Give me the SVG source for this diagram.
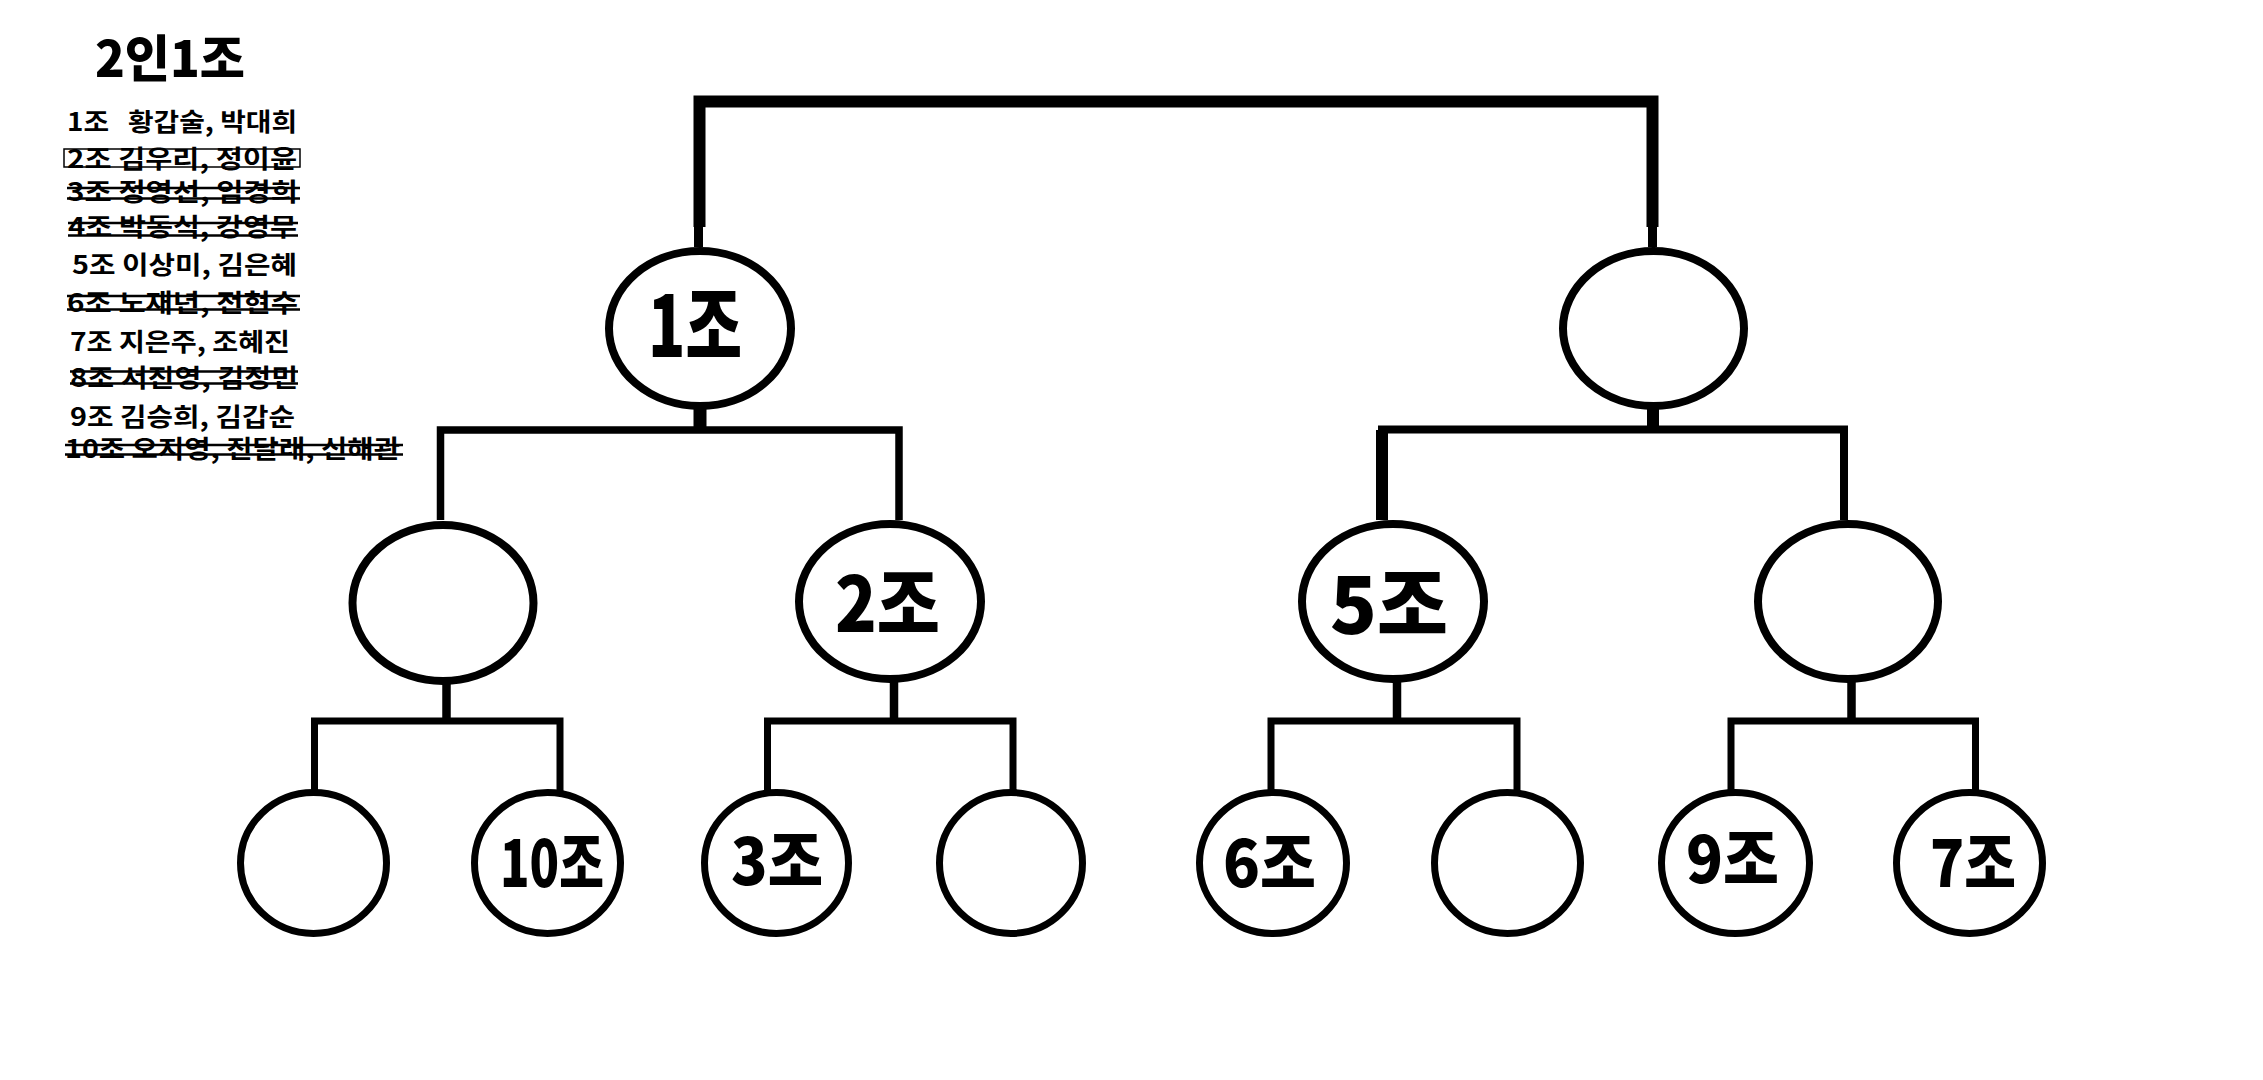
<svg xmlns="http://www.w3.org/2000/svg" width="2263" height="1080" viewBox="0 0 2263 1080">
<style>
.n{fill:#fff;stroke:#000}
.w8{stroke-width:8}
.w7{stroke-width:7}
.t{font-family:"Noto Sans CJK KR","Noto Sans",sans-serif;font-weight:900;fill:#000}
.li{font-family:"Noto Sans CJK KR","Noto Sans",sans-serif;font-weight:bold;font-size:25px;fill:#000}
.c{fill:none;stroke:#000;stroke-linejoin:miter;stroke-linecap:butt}
.s{stroke:#000;stroke-width:2.5}
</style>
<rect width="2263" height="1080" fill="#fff"/>
<g id="legend">
<text class="t" x="95" y="77" font-size="50" textLength="150" lengthAdjust="spacingAndGlyphs" font-weight="bold">2인1조</text>
<text class="li" x="67" y="130.5" textLength="230" lengthAdjust="spacingAndGlyphs" xml:space="preserve">1조   황갑술, 박대희</text>
<text class="li" x="67" y="167.5" textLength="230" lengthAdjust="spacingAndGlyphs">2조 김우리, 정이윤</text>
<rect x="64" y="149" width="236" height="18" fill="none" stroke="#000" stroke-width="1.5"/>
<text class="li" x="67" y="200.5" textLength="231" lengthAdjust="spacingAndGlyphs">3조 정영선, 임경희</text>
<line class="s" x1="67" y1="188" x2="300" y2="188"/>
<line class="s" x1="67" y1="198.5" x2="300" y2="198.5"/>
<text class="li" x="68" y="235.5" textLength="229" lengthAdjust="spacingAndGlyphs">4조 박동식, 강영무</text>
<line class="s" x1="68" y1="223" x2="298" y2="223"/>
<line class="s" x1="68" y1="235.5" x2="298" y2="235.5"/>
<text class="li" x="72" y="273.5" textLength="225" lengthAdjust="spacingAndGlyphs">5조 이상미, 김은혜</text>
<text class="li" x="67" y="311.5" textLength="231" lengthAdjust="spacingAndGlyphs">6조 노재년, 전현수</text>
<line class="s" x1="67" y1="296" x2="300" y2="296"/>
<line class="s" x1="67" y1="309.5" x2="300" y2="309.5"/>
<text class="li" x="70" y="350.5" textLength="220" lengthAdjust="spacingAndGlyphs">7조 지은주, 조혜진</text>
<text class="li" x="70" y="386.5" textLength="228" lengthAdjust="spacingAndGlyphs">8조 서진영, 김정민</text>
<line class="s" x1="70" y1="371.5" x2="298" y2="371.5"/>
<line class="s" x1="70" y1="383.5" x2="298" y2="383.5"/>
<text class="li" x="70" y="425.5" textLength="225" lengthAdjust="spacingAndGlyphs">9조 김승희, 김갑순</text>
<text class="li" x="65" y="458" textLength="335" lengthAdjust="spacingAndGlyphs">10조 오지영, 진달래, 신해관</text>
<line class="s" x1="65" y1="445" x2="403" y2="445"/>
<line class="s" x1="65" y1="454.5" x2="403" y2="454.5"/>
</g>
<g id="connectors">
<path class="c" d="M699.5 227 V101.5 H1652.5 V227" stroke-width="12"/>
<path class="c" d="M698.5 227 V247 M1652.5 227 V247" stroke-width="9"/>
<path class="c" d="M700 406 V428" stroke-width="13"/>
<path class="c" d="M440.5 520 V430 H899 V520" stroke-width="7.5"/>
<path class="c" d="M1653 406 V428" stroke-width="12"/>
<path class="c" d="M1382 520 V429.5 H1844 V520" stroke-width="8"/>
<path class="c" d="M1382 430 V520" stroke-width="12"/>
<path class="c" d="M446.5 680 V719 M894 680 V719 M1397 680 V719 M1851.5 680 V719" stroke-width="8.5"/>
<path class="c" d="M314.5 791 V721 H560 V791" stroke-width="7"/>
<path class="c" d="M767.5 791 V721 H1013 V791" stroke-width="7"/>
<path class="c" d="M1271 791 V721 H1517 V791" stroke-width="7"/>
<path class="c" d="M1731 791 V721 H1975.5 V791" stroke-width="7"/>
</g>
<g id="node-1jo">
<ellipse class="n w8" cx="700" cy="328.5" rx="91" ry="77.5"/>
<text class="t" x="648" y="357" font-size="84" textLength="94" lengthAdjust="spacingAndGlyphs">1조</text>
</g>
<g id="node-top-right">
<ellipse class="n w8" cx="1653.5" cy="328.5" rx="90.5" ry="77.5"/>
</g>
<g id="node-l2-a">
<ellipse class="n w8" cx="443" cy="603" rx="90.5" ry="78"/>
</g>
<g id="node-2jo">
<ellipse class="n w8" cx="890" cy="601.5" rx="91" ry="77.5"/>
<text class="t" x="835" y="632" font-size="76" textLength="105" lengthAdjust="spacingAndGlyphs">2조</text>
</g>
<g id="node-5jo">
<ellipse class="n w8" cx="1393" cy="601.5" rx="91" ry="77.5"/>
<text class="t" x="1330" y="634" font-size="78" textLength="118" lengthAdjust="spacingAndGlyphs">5조</text>
</g>
<g id="node-l2-d">
<ellipse class="n w8" cx="1848" cy="601.5" rx="90" ry="77.5"/>
</g>
<g id="node-l3-a">
<ellipse class="n w7" cx="313.5" cy="863" rx="73" ry="70.5"/>
</g>
<g id="node-10jo">
<ellipse class="n w7" cx="547.5" cy="863" rx="73" ry="70.5"/>
<text class="t" x="500" y="887" font-size="65" textLength="104" lengthAdjust="spacingAndGlyphs">10조</text>
</g>
<g id="node-3jo">
<ellipse class="n w7" cx="776.5" cy="863" rx="72" ry="70.5"/>
<text class="t" x="731" y="885" font-size="65" textLength="92" lengthAdjust="spacingAndGlyphs">3조</text>
</g>
<g id="node-l3-d">
<ellipse class="n w7" cx="1011" cy="863" rx="71.5" ry="70.5"/>
</g>
<g id="node-6jo">
<ellipse class="n w7" cx="1273" cy="863" rx="73.5" ry="70.5"/>
<text class="t" x="1223" y="887" font-size="65" textLength="93" lengthAdjust="spacingAndGlyphs">6조</text>
</g>
<g id="node-l3-f">
<ellipse class="n w7" cx="1507.5" cy="863" rx="73" ry="70.5"/>
</g>
<g id="node-9jo">
<ellipse class="n w7" cx="1735.5" cy="863" rx="74" ry="70.5"/>
<text class="t" x="1686" y="883" font-size="65" textLength="93" lengthAdjust="spacingAndGlyphs">9조</text>
</g>
<g id="node-7jo">
<ellipse class="n w7" cx="1969.5" cy="863" rx="73" ry="70.5"/>
<text class="t" x="1930" y="887" font-size="65" textLength="86" lengthAdjust="spacingAndGlyphs">7조</text>
</g>
</svg>
